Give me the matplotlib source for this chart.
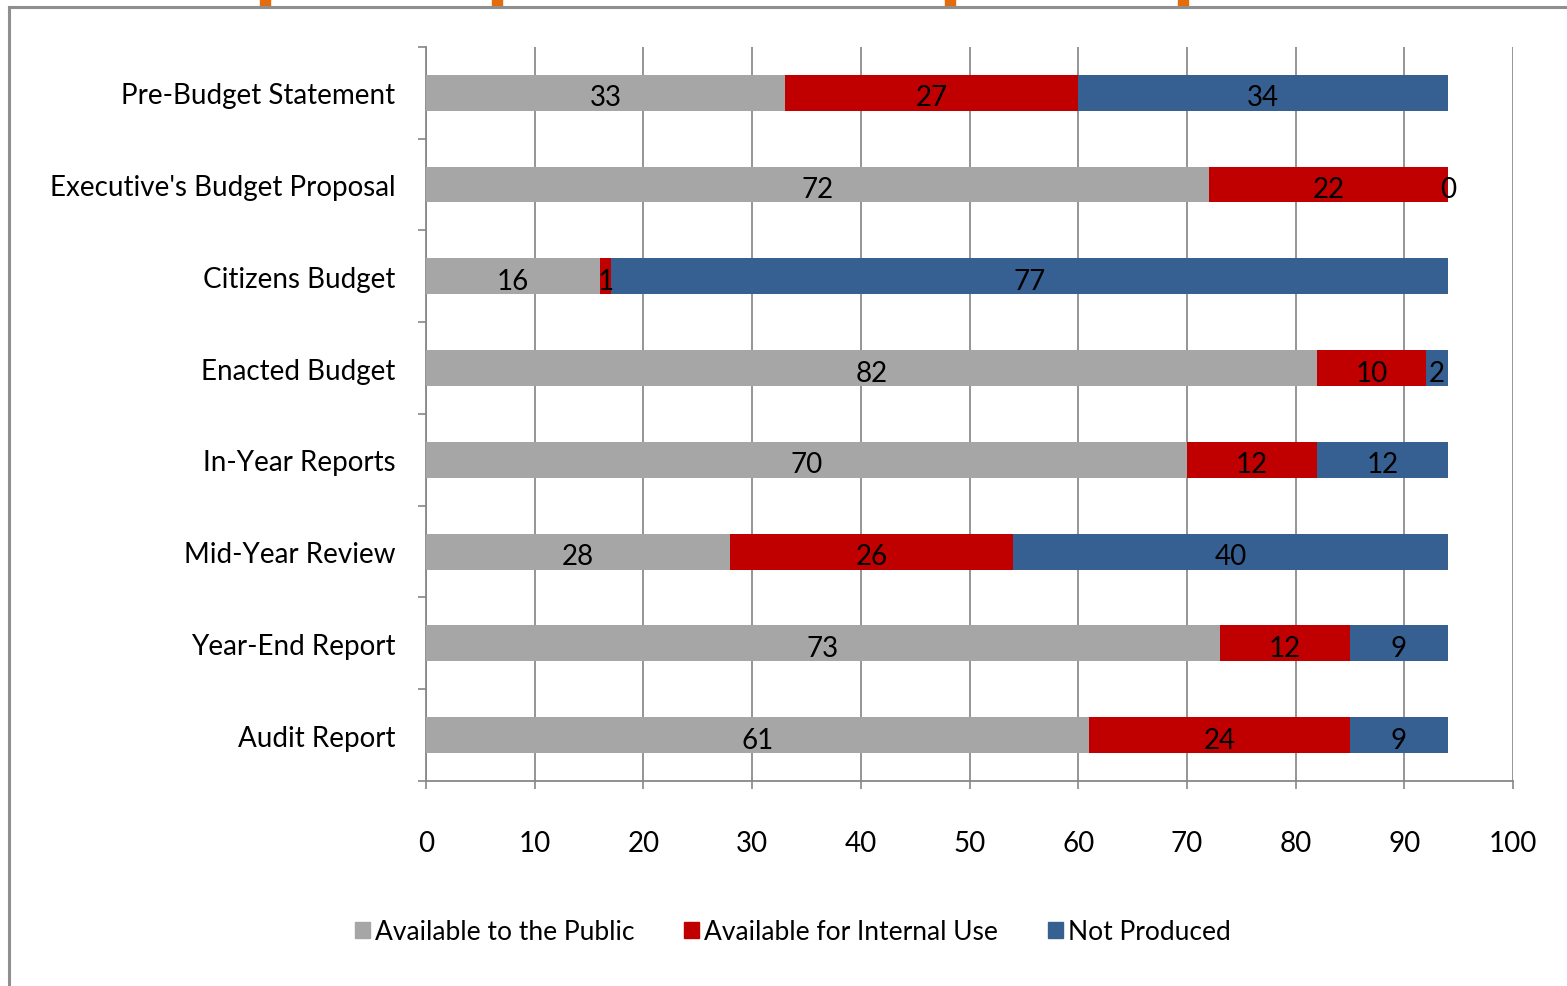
import numpy as np
import matplotlib.pyplot as plt
from matplotlib.patches import Rectangle
from matplotlib.lines import Line2D

plt.rcParams['font.family'] = ['Lato', 'DejaVu Sans']

categories = ['Pre-Budget Statement', "Executive's Budget Proposal", 'Citizens Budget',
              'Enacted Budget', 'In-Year Reports', 'Mid-Year Review',
              'Year-End Report', 'Audit Report']
public = [33, 72, 16, 82, 70, 28, 73, 61]
internal = [27, 22, 1, 10, 12, 26, 12, 24]
not_produced = [34, 0, 77, 2, 12, 40, 9, 9]
series_names = ['Available to the Public', 'Available for Internal Use', 'Not Produced']
colors = ['#A6A6A6', '#C00000', '#376092']

FS = 20

fig = plt.figure(figsize=(15.67, 9.87), dpi=100)
ax = fig.add_axes([0.2719, 0.2077, 0.6937, 0.7437])

y = np.arange(len(categories))
left = np.zeros(len(categories))
for vals, name, col in zip([public, internal, not_produced], series_names, colors):
    vals = np.array(vals, dtype=float)
    ax.barh(y, vals, left=left, height=0.39, color=col, label=name, zorder=3)
    # value labels in the middle of each segment
    for yi, l, v in zip(y, left, vals):
        ax.text(l + v / 2, yi + 0.05, f'{int(v)}', ha='center', va='center',
                fontsize=FS, color='black', zorder=4)
    left = left + vals

ax.set_xlim(0, 100)
ax.set_ylim(len(categories) - 0.5, -0.5)
ax.set_xticks(np.arange(0, 101, 10))
ax.tick_params(axis='x', length=6, width=1.2, color='#888888', pad=29, labelsize=FS)
ax.set_yticks(np.arange(-0.5, len(categories), 1.0))
ax.set_yticklabels([])
ax.tick_params(axis='y', which='major', length=6, width=1.2, color='#888888')
ax.set_yticks(y, minor=True)
ax.set_yticklabels(categories, minor=True, fontsize=FS)
ax.tick_params(axis='y', which='minor', length=0, pad=22)

ax.grid(axis='x', color='#8C8C8C', linewidth=1.3, zorder=0)
for s in ['top', 'right']:
    ax.spines[s].set_visible(False)
for s in ['left', 'bottom']:
    ax.spines[s].set_color('#888888')
    ax.spines[s].set_linewidth(1.3)

handles = [Rectangle((0, 0), 1, 1, color=c) for c in colors]
fig.legend(handles, series_names, loc='center', bbox_to_anchor=(0.506, 0.055),
           ncol=3, frameon=False, fontsize=19, handlelength=0.55, handleheight=0.55,
           handletextpad=0.2, columnspacing=1.9)

# slide frame
fig.add_artist(Line2D([9 / 1567, 9 / 1567], [0, 1 - 8 / 987], color='#8F8F8F', linewidth=2.2))
fig.add_artist(Line2D([9 / 1567, 1], [1 - 8 / 987, 1 - 8 / 987], color='#8F8F8F', linewidth=2.2))
for xo in [260, 492, 945, 1178]:
    fig.add_artist(Rectangle((xo / 1567, 1 - 7 / 987), 10 / 1567, 7 / 987,
                             color='#E46C0A', transform=fig.transFigure))

fig.savefig('out.png', dpi=100)
